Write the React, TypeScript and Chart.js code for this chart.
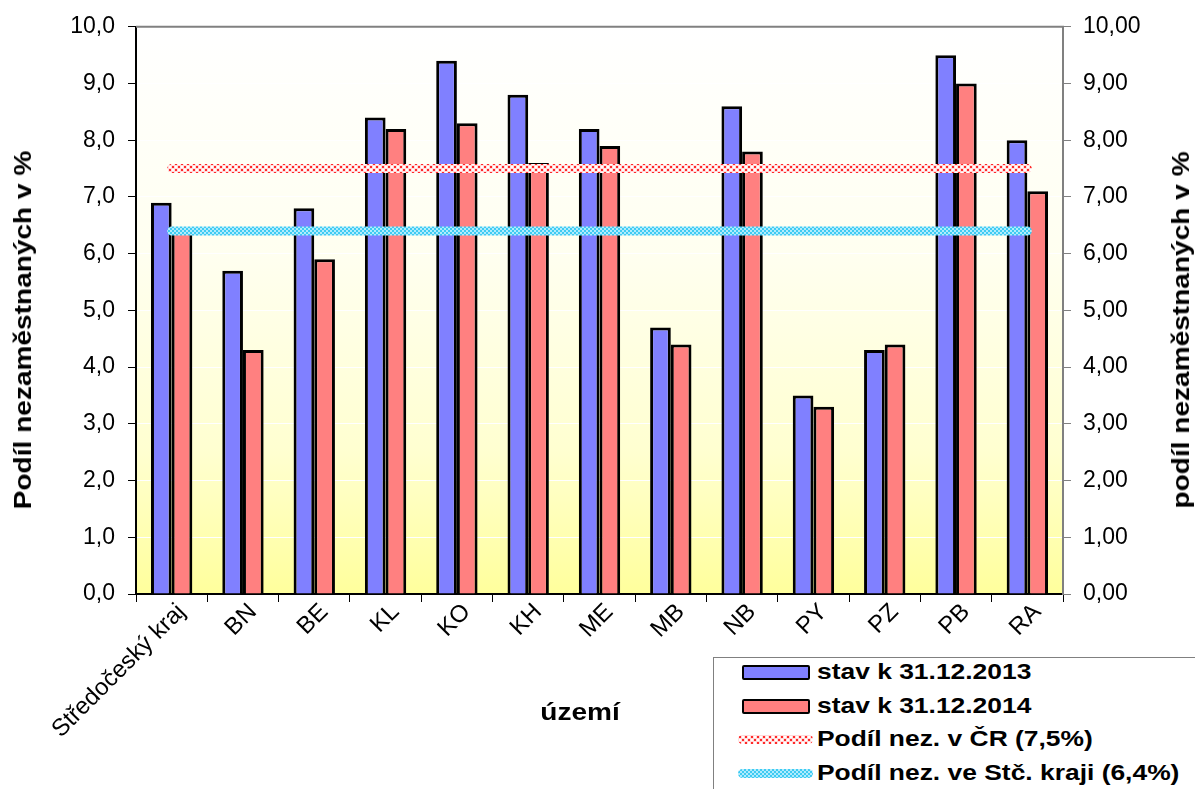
import React, { useEffect, useRef, useState } from "react";
import { Chart, registerables } from "chart.js";

Chart.register(...registerables);

const categories = ["Středočeský kraj", "BN", "BE", "KL", "KO", "KH", "ME", "MB", "NB", "PY", "PZ", "PB", "RA"];
const values2013 = [6.9, 5.7, 6.8, 8.4, 9.4, 8.8, 8.2, 4.7, 8.6, 3.5, 4.3, 9.5, 8.0];
const values2014 = [6.4, 4.3, 5.9, 8.2, 8.3, 7.6, 7.9, 4.4, 7.8, 3.3, 4.4, 9.0, 7.1];
const lineCR = [7.5, 7.5, 7.5, 7.5, 7.5, 7.5, 7.5, 7.5, 7.5, 7.5, 7.5, 7.5, 7.5];
const lineStc = [6.4, 6.4, 6.4, 6.4, 6.4, 6.4, 6.4, 6.4, 6.4, 6.4, 6.4, 6.4, 6.4];
const seriesLabels = [
  "stav k 31.12.2013",
  "stav k 31.12.2014",
  "Podíl nez. v ČR (7,5%)",
  "Podíl nez. ve Stč. kraji (6,4%)",
];
const yMin = 0;
const yMax = 10;
const yStep = 1;
const yTitleLeft = "Podíl nezaměstnaných v %";
const yTitleRight = "podíl nezaměstnaných v %";
const xTitle = "území";

const BLUE = "#8080FF";
const RED = "#FF8080";
const FONT = "'Liberation Sans', Arial, sans-serif";

function makeRedTile(): HTMLCanvasElement {
  const c = document.createElement("canvas");
  c.width = 6;
  c.height = 6;
  const g = c.getContext("2d")!;
  g.fillStyle = "#FFFFFF";
  g.fillRect(0, 0, 6, 6);
  g.fillStyle = "#FFDADA";
  g.fillRect(0, 0, 4, 4);
  g.fillRect(3, 3, 4, 4);
  g.fillRect(-3, 3, 4, 4);
  g.fillRect(3, -3, 4, 4);
  g.fillStyle = "#FF2A2A";
  g.fillRect(1, 1, 2, 2);
  g.fillRect(4, 4, 2, 2);
  return c;
}

function makeCyanTile(): HTMLCanvasElement {
  const c = document.createElement("canvas");
  c.width = 4;
  c.height = 4;
  const g = c.getContext("2d")!;
  g.fillStyle = "#3FCBF3";
  g.fillRect(0, 0, 4, 4);
  g.fillStyle = "#B0ECFC";
  g.fillRect(0, 0, 2, 2);
  g.fillRect(2, 2, 2, 2);
  return c;
}

const bgPlugin = {
  id: "plotBg",
  beforeDraw(chart: any) {
    const { ctx, chartArea } = chart;
    if (!chartArea) return;
    const { left, top, right, bottom } = chartArea;
    const grad = ctx.createLinearGradient(0, top, 0, bottom);
    grad.addColorStop(0, "#FFFFFF");
    grad.addColorStop(0.4, "#FFFFF0");
    grad.addColorStop(0.75, "#FFFFD0");
    grad.addColorStop(1, "#FFFF9C");
    ctx.save();
    ctx.fillStyle = grad;
    ctx.fillRect(left, top, right - left, bottom - top);
    ctx.restore();
  },
  afterDraw(chart: any) {
    const { ctx, chartArea } = chart;
    ctx.save();
    ctx.strokeStyle = "#808080";
    ctx.lineWidth = 2;
    ctx.beginPath();
    ctx.moveTo(chartArea.left, chartArea.top);
    ctx.lineTo(chartArea.right + 1, chartArea.top);
    ctx.stroke();
    ctx.restore();
  },
};

export default function App() {
  const canvasRef = useRef<HTMLCanvasElement | null>(null);
  const [tiles] = useState(() => ({ red: makeRedTile(), cyan: makeCyanTile() }));

  useEffect(() => {
    const canvas = canvasRef.current;
    if (!canvas) return;
    const ctx = canvas.getContext("2d")!;
    const redPattern = ctx.createPattern(tiles.red, "repeat")!;
    const cyanPattern = ctx.createPattern(tiles.cyan, "repeat")!;

    const tickFont = { family: FONT, size: 23 };

    const chart = new Chart(canvas, {
      type: "bar",
      data: {
        labels: categories,
        datasets: [
          {
            type: "line",
            label: seriesLabels[2],
            data: lineCR,
            borderColor: redPattern as any,
            borderWidth: 9,
            borderCapStyle: "round",
            pointRadius: 0,
            fill: false,
            order: 1,
            yAxisID: "y",
          } as any,
          {
            type: "line",
            label: seriesLabels[3],
            data: lineStc,
            borderColor: cyanPattern as any,
            borderWidth: 9,
            borderCapStyle: "round",
            pointRadius: 0,
            fill: false,
            order: 1,
            yAxisID: "y",
          } as any,
          {
            type: "bar",
            label: seriesLabels[0],
            data: values2013,
            backgroundColor: BLUE,
            borderColor: "#000000",
            borderWidth: 3,
            categoryPercentage: 0.58,
            barPercentage: 1,
            order: 2,
            yAxisID: "y",
          },
          {
            type: "bar",
            label: seriesLabels[1],
            data: values2014,
            backgroundColor: RED,
            borderColor: "#000000",
            borderWidth: 3,
            categoryPercentage: 0.58,
            barPercentage: 1,
            order: 2,
            yAxisID: "y",
          },
        ],
      },
      options: {
        responsive: false,
        animation: false,
        layout: { padding: { top: 24, left: 0, right: 0, bottom: 0 } },
        plugins: {
          legend: { display: false },
          tooltip: { enabled: false },
          title: { display: false },
        },
        scales: {
          x: {
            grid: {
              display: true,
              drawOnChartArea: false,
              offset: true,
              color: "#000000",
              tickLength: 8,
              lineWidth: 1,
            },
            border: { color: "#000000", width: 2 },
            ticks: {
              color: "#000000",
              font: { family: FONT, size: 24 },
              minRotation: 45,
              maxRotation: 45,
              autoSkip: false,
              padding: -4,
              labelOffset: 10,
            },
            afterFit: (s: any) => {
              s.height = 195;
            },
          },
          y: {
            position: "left",
            min: yMin,
            max: yMax,
            ticks: {
              stepSize: yStep,
              color: "#000000",
              font: tickFont,
              padding: 13,
              callback: (v: any) => Number(v).toFixed(1).replace(".", ","),
            },
            grid: {
              color: "#FFFFFF",
              tickColor: "#000000",
              tickLength: 8,
              lineWidth: 1,
            },
            border: { color: "#000000", width: 2 },
            afterFit: (s: any) => {
              s.width = 136;
            },
          },
          y2: {
            position: "right",
            min: yMin,
            max: yMax,
            ticks: {
              stepSize: yStep,
              color: "#000000",
              font: tickFont,
              padding: 12,
              callback: (v: any) => Number(v).toFixed(2).replace(".", ","),
            },
            grid: {
              drawOnChartArea: false,
              color: "#808080",
              tickLength: 8,
            },
            border: { color: "#808080", width: 2 },
            afterFit: (s: any) => {
              s.width = 132;
            },
          },
        },
      },
      plugins: [bgPlugin],
    });
    return () => chart.destroy();
  }, [tiles]);

  const titleStyle: React.CSSProperties = {
    position: "absolute",
    fontFamily: FONT,
    fontWeight: "bold",
    fontSize: 23,
    color: "#000",
    whiteSpace: "nowrap",
    lineHeight: "26px",
  };

  const legendText: React.CSSProperties = {
    position: "absolute",
    left: 817,
    fontFamily: FONT,
    fontWeight: "bold",
    fontSize: 22,
    lineHeight: "26px",
    height: 26,
    whiteSpace: "nowrap",
    transform: "scaleX(1.2)",
    transformOrigin: "left center",
    color: "#000",
  };

  const rowCenters = [672, 706, 739, 773];

  return (
    <div style={{ position: "fixed", left: 0, top: 0, width: 1195, height: 789, overflow: "hidden", background: "#fff" }}>
      <canvas ref={canvasRef} width={1195} height={789} style={{ position: "absolute", left: 0, top: 0, width: 1195, height: 789 }} />
      <div style={{ ...titleStyle, left: 23, top: 330, transform: "translate(-50%, -50%) rotate(-90deg) scaleX(1.22)" }}>{yTitleLeft}</div>
      <div style={{ ...titleStyle, left: 1181, top: 330, transform: "translate(-50%, -50%) rotate(-90deg) scaleX(1.22)" }}>{yTitleRight}</div>
      <div style={{ ...titleStyle, left: 580, top: 712, transform: "translate(-50%, -50%) scaleX(1.22)" }}>{xTitle}</div>
      <div style={{ position: "absolute", left: 713, top: 657, width: 600, height: 300, border: "1px solid #808080", background: "#fff" }} />
      <div style={{ position: "absolute", left: 742, top: 665, width: 64, height: 11, background: BLUE, border: "2px solid #000", borderRadius: 2 }} />
      <div style={{ position: "absolute", left: 742, top: 699, width: 64, height: 11, background: RED, border: "2px solid #000", borderRadius: 2 }} />
      <div style={{ position: "absolute", left: 738, top: 735, width: 75, height: 9, borderRadius: 4.5, backgroundImage: `url(${tiles.red.toDataURL()})` }} />
      <div style={{ position: "absolute", left: 738, top: 769, width: 75, height: 9, borderRadius: 4.5, backgroundImage: `url(${tiles.cyan.toDataURL()})` }} />
      {seriesLabels.map((t, i) => (
        <div key={t} style={{ ...legendText, top: rowCenters[i] - 13 }}>{t}</div>
      ))}
    </div>
  );
}
